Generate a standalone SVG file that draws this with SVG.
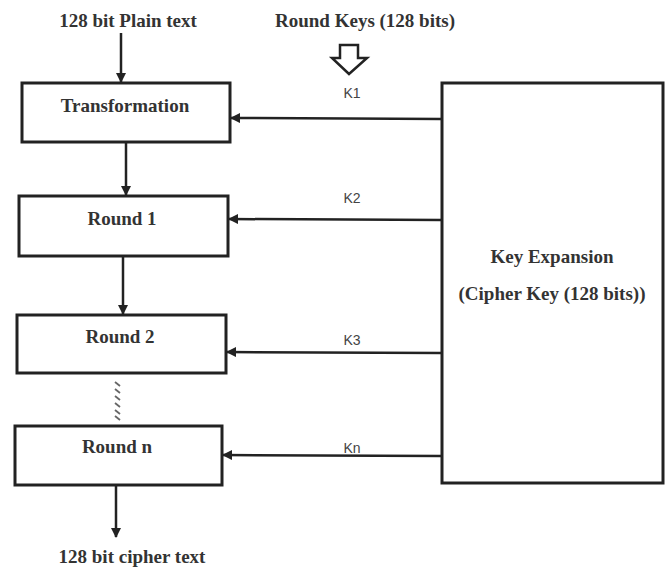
<svg xmlns="http://www.w3.org/2000/svg" width="667" height="568" viewBox="0 0 667 568">
<style>
.box{fill:#fff;stroke:#222;stroke-width:3}
.t{font-family:"Liberation Serif",serif;font-weight:bold;font-size:19px;fill:#333;text-anchor:middle}
.k{font-family:"Liberation Sans",sans-serif;font-size:14px;fill:#444;text-anchor:middle}
.c{stroke:#222;stroke-width:2.5;fill:none}
</style>
<defs>
<marker id="ah" viewBox="0 0 10 10" refX="9" refY="5" markerWidth="4" markerHeight="4" orient="auto" markerUnits="strokeWidth">
<path d="M0,0 L10,5 L0,10 z" fill="#222"/>
</marker>
</defs>
<rect width="667" height="568" fill="#fff"/>
<text class="t" x="128" y="27">128 bit Plain text</text>
<text class="t" x="365" y="27">Round Keys (128 bits)</text>
<polygon points="340,45 358,45 358,58 367,58 349,74 332,58 340,58" fill="#fff" stroke="#222" stroke-width="2.5" stroke-linejoin="miter"/>
<g id="transformation"><rect class="box" x="22" y="83" width="208" height="59"/><text class="t" x="125" y="112">Transformation</text></g>
<g id="round1"><rect class="box" x="19" y="196" width="209" height="60"/><text class="t" x="122" y="225">Round 1</text></g>
<g id="round2"><rect class="box" x="17" y="315" width="209" height="58"/><text class="t" x="120" y="343">Round 2</text></g>
<g id="roundn"><rect class="box" x="15" y="426" width="207" height="59"/><text class="t" x="117" y="453">Round n</text></g>
<g id="keyexp"><rect class="box" x="442" y="83" width="221" height="400"/><text class="t" x="552" y="263">Key Expansion</text><text class="t" x="552" y="300">(Cipher Key (128 bits))</text></g>
<text class="t" x="132" y="563">128 bit cipher text</text>
<g id="connectors">
<line class="c" x1="121" y1="33" x2="121" y2="82" marker-end="url(#ah)"/>
<line class="c" x1="126" y1="142" x2="126" y2="195" marker-end="url(#ah)"/>
<line class="c" x1="123" y1="256" x2="123" y2="314" marker-end="url(#ah)"/>
<line class="c" x1="116" y1="485" x2="116" y2="537" marker-end="url(#ah)"/>
<line class="c" x1="442" y1="119" x2="231" y2="118" marker-end="url(#ah)"/>
<line class="c" x1="442" y1="220" x2="229" y2="219" marker-end="url(#ah)"/>
<line class="c" x1="442" y1="353" x2="227" y2="352" marker-end="url(#ah)"/>
<line class="c" x1="442" y1="456" x2="223" y2="455" marker-end="url(#ah)"/>
<g stroke="#666" stroke-width="1.8">
<line x1="115" y1="382" x2="120" y2="386"/>
<line x1="115" y1="389" x2="120" y2="393"/>
<line x1="115" y1="396" x2="120" y2="400"/>
<line x1="115" y1="403" x2="120" y2="407"/>
<line x1="115" y1="410" x2="120" y2="414"/>
<line x1="115" y1="416" x2="120" y2="420"/>
</g>
</g>
<text class="k" x="352" y="98">K1</text>
<text class="k" x="352" y="203">K2</text>
<text class="k" x="352" y="345">K3</text>
<text class="k" x="352" y="453">Kn</text>
</svg>
